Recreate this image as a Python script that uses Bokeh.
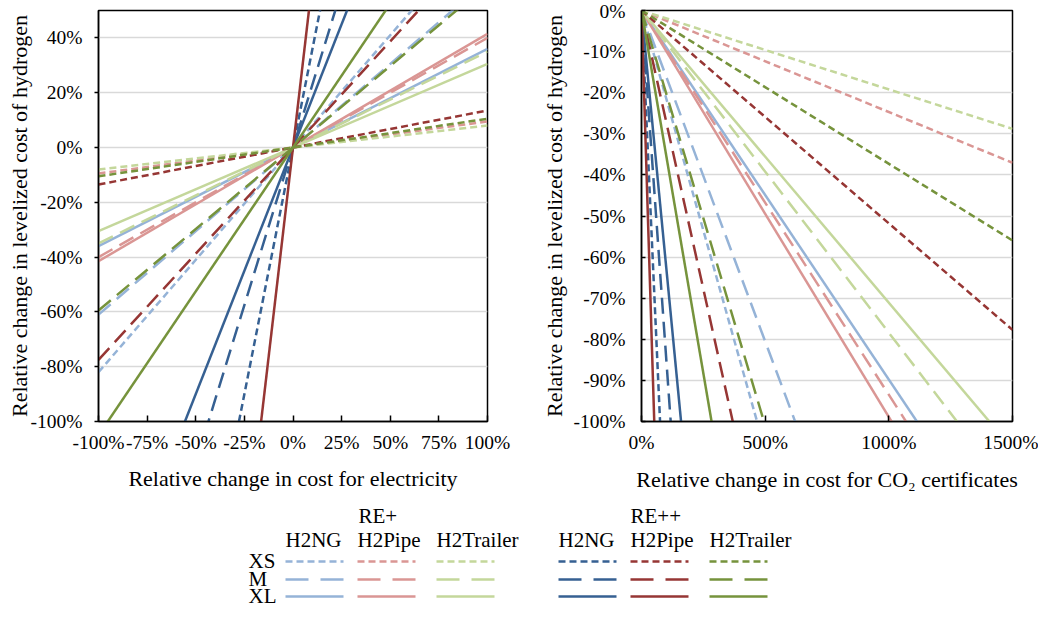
import numpy as np
from bokeh.plotting import figure
from bokeh.models import Range1d, NumeralTickFormatter, FixedTicker
from bokeh.layouts import column, row
from bokeh.embed import file_html
from bokeh.resources import INLINE
from bokeh.core.properties import value

FONT = "Liberation Serif"
TICK_FS = "19.5px"
LABEL_FS = "22px"
LEG_FS = "21px"

configs = ["RE+", "RE++"]
chains = ["H2NG", "H2Pipe", "H2Trailer"]
sizes = ["XS", "M", "XL"]

# Left chart: relative change of LCOH per relative change of electricity cost (sizes XS, M, XL)
elec_REp_H2NG = [0.82, 0.61, 0.36]
elec_REp_H2Pipe = [0.095, 0.40, 0.415]
elec_REp_H2Trailer = [0.08, 0.35, 0.305]
elec_REpp_H2NG = [3.6, 2.3, 1.8]
elec_REpp_H2Pipe = [0.135, 0.775, 6.1]
elec_REpp_H2Trailer = [0.105, 0.595, 1.05]

# Right chart: relative change of LCOH per relative change of CO2 certificate cost (sizes XS, M, XL)
co2_REp_H2NG = [-0.214, -0.161, -0.0898]
co2_REp_H2Pipe = [-0.0247, -0.0935, -0.0989]
co2_REp_H2Trailer = [-0.0192, -0.0784, -0.0711]
co2_REpp_H2NG = [-1.333, -0.847, -0.625]
co2_REpp_H2Pipe = [-0.0518, -0.271, -1.94]
co2_REpp_H2Trailer = [-0.0373, -0.202, -0.353]

elec_x_ticks = [-1.0, -0.75, -0.5, -0.25, 0.0, 0.25, 0.5, 0.75, 1.0]
elec_y_ticks = [-1.0, -0.8, -0.6, -0.4, -0.2, 0.0, 0.2, 0.4]
co2_x_ticks = [0.0, 5.0, 10.0, 15.0]
co2_y_ticks = [-1.0, -0.9, -0.8, -0.7, -0.6, -0.5, -0.4, -0.3, -0.2, -0.1, 0.0]

elec_series = {
    ("RE+", "H2NG"): elec_REp_H2NG, ("RE+", "H2Pipe"): elec_REp_H2Pipe,
    ("RE+", "H2Trailer"): elec_REp_H2Trailer, ("RE++", "H2NG"): elec_REpp_H2NG,
    ("RE++", "H2Pipe"): elec_REpp_H2Pipe, ("RE++", "H2Trailer"): elec_REpp_H2Trailer,
}
co2_series = {
    ("RE+", "H2NG"): co2_REp_H2NG, ("RE+", "H2Pipe"): co2_REp_H2Pipe,
    ("RE+", "H2Trailer"): co2_REp_H2Trailer, ("RE++", "H2NG"): co2_REpp_H2NG,
    ("RE++", "H2Pipe"): co2_REpp_H2Pipe, ("RE++", "H2Trailer"): co2_REpp_H2Trailer,
}
colors = {
    ("RE+", "H2NG"): "#95B3D7", ("RE+", "H2Pipe"): "#DA9694", ("RE+", "H2Trailer"): "#C4D79B",
    ("RE++", "H2NG"): "#366092", ("RE++", "H2Pipe"): "#963634", ("RE++", "H2Trailer"): "#76933C",
}
dashes = {"XS": "7 4", "M": "16 8", "XL": "solid"}
legend_dashes = {"XS": "7 4", "M": "23 12", "XL": "solid"}
LW = 2.5


def style(p, xticks, yticks, y_tick_in, y_tick_out):
    p.background_fill_color = "white"
    p.border_fill_color = "white"
    p.outline_line_color = "black"
    p.outline_line_width = 1.5
    p.xgrid.grid_line_color = None
    p.ygrid.grid_line_color = "#D9D9D9"
    p.ygrid.grid_line_width = 1.5
    p.xaxis.ticker = FixedTicker(ticks=xticks)
    p.yaxis.ticker = FixedTicker(ticks=yticks)
    for ax in (p.xaxis[0], p.yaxis[0]):
        ax.formatter = NumeralTickFormatter(format="0%")
        ax.axis_line_color = "black"
        ax.axis_line_width = 1.5
        ax.major_tick_line_color = "black"
        ax.major_tick_line_width = 1.5
        ax.minor_tick_line_color = None
        ax.major_label_text_font = FONT
        ax.major_label_text_font_size = TICK_FS
        ax.major_label_text_color = "black"
        ax.axis_label_text_font = FONT
        ax.axis_label_text_font_size = LABEL_FS
        ax.axis_label_text_font_style = "normal"
        ax.axis_label_text_color = "black"
    p.xaxis.major_tick_in = 6
    p.xaxis.major_tick_out = 0
    p.yaxis.major_tick_in = y_tick_in
    p.yaxis.major_tick_out = y_tick_out


FIG_H = 497

# ---------- left chart ----------
pL = figure(width=538, height=FIG_H, output_backend="svg", toolbar_location=None,
            x_range=Range1d(-1.0, 1.0), y_range=Range1d(-1.0, 0.5),
            min_border_left=98, min_border_right=51, min_border_top=8, min_border_bottom=76,
            x_axis_label="Relative change in cost for electricity",
            y_axis_label="Relative change in levelized cost of hydrogen")
style(pL, elec_x_ticks, elec_y_ticks, 0, 4)
pL.xaxis.major_label_standoff = 10
pL.xaxis.axis_label_standoff = 10
pL.yaxis.major_label_standoff = 12
pL.yaxis.axis_label_standoff = -4

xL = np.array([pL.x_range.start, pL.x_range.end])
for cfg in configs:
    for ch in chains:
        for i, sz in enumerate(sizes):
            s = elec_series[(cfg, ch)][i]
            pL.line(xL, s * xL, line_color=colors[(cfg, ch)], line_width=LW,
                    line_dash=dashes[sz])

# ---------- right chart ----------
pR = figure(width=500, height=FIG_H, output_backend="svg", toolbar_location=None,
            x_range=Range1d(0.0, 15.0), y_range=Range1d(-1.0, 0.0),
            min_border_left=99, min_border_right=26, min_border_top=10, min_border_bottom=76,
            x_axis_label="Relative change in cost for CO\u2082 certificates",
            y_axis_label="Relative change in levelized cost of hydrogen")
style(pR, co2_x_ticks, co2_y_ticks, 4, 0)
pR.xaxis.major_label_standoff = 10
pR.xaxis.axis_label_standoff = 11
pR.yaxis.major_label_standoff = 16
pR.yaxis.axis_label_standoff = 4

xR = np.array([pR.x_range.start, pR.x_range.end])
for cfg in configs:
    for ch in chains:
        for i, sz in enumerate(sizes):
            s = co2_series[(cfg, ch)][i]
            pR.line(xR, s * xR, line_color=colors[(cfg, ch)], line_width=LW,
                    line_dash=dashes[sz])

# ---------- legend (data units = picture pixels) ----------
LEG_TOP, LEG_H, LEG_W = FIG_H, 110, 1038
leg = figure(width=LEG_W, height=LEG_H, output_backend="svg", toolbar_location=None,
             x_range=Range1d(0, LEG_W), y_range=Range1d(LEG_TOP + LEG_H, LEG_TOP),
             min_border=0, outline_line_color=None)
leg.axis.visible = False
leg.grid.visible = False
leg.background_fill_color = "white"
leg.border_fill_color = "white"

group_x = {"RE+": [285, 357, 436], "RE++": [558, 630, 709]}
group_label_x = {"RE+": 358, "RE++": 630}
row_y = {"XS": 561, "M": 579, "XL": 596}
tf = value(FONT)
for cfg in configs:
    leg.text(x=[group_label_x[cfg]], y=[515], text=[cfg], text_font=tf,
             text_font_size=LEG_FS, text_baseline="middle", text_align="left", text_color="black")
    for j, ch in enumerate(chains):
        x0 = group_x[cfg][j]
        leg.text(x=[x0], y=[539], text=[ch], text_font=tf, text_font_size=LEG_FS,
                 text_baseline="middle", text_align="left", text_color="black")
        for sz in sizes:
            leg.line([x0, x0 + 58], [row_y[sz], row_y[sz]], line_color=colors[(cfg, ch)],
                     line_width=LW, line_dash=legend_dashes[sz])
for sz in sizes:
    leg.text(x=[248], y=[row_y[sz] - 1], text=[sz], text_font=tf, text_font_size=LEG_FS,
             text_baseline="middle", text_align="left", text_color="black")

layout = column(row(pL, pR), leg)
open("out.html", "w").write(file_html(layout, INLINE))
